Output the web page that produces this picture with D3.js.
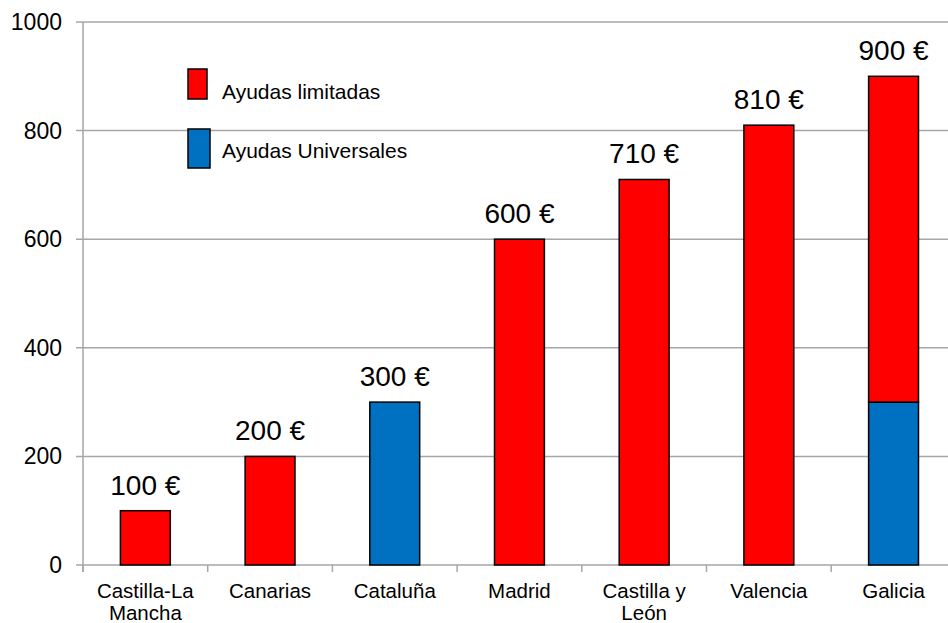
<!DOCTYPE html>
<html>
<head>
<meta charset="utf-8">
<script src="https://cdn.jsdelivr.net/npm/d3@7"></script>
<style>
  body { margin: 0; background: #fff; }
  svg { display: block; font-family: "Liberation Sans", Arial, sans-serif; }
</style>
</head>
<body>
<svg id="chart" width="948" height="623"></svg>
<script>
const regiones = ["Castilla-La Mancha", "Canarias", "Cataluña", "Madrid", "Castilla y León", "Valencia", "Galicia"];
const etiquetas = [["Castilla-La", "Mancha"], ["Canarias"], ["Cataluña"], ["Madrid"], ["Castilla y", "León"], ["Valencia"], ["Galicia"]];
const universales = [0, 0, 300, 0, 0, 0, 300];
const limitadas = [100, 200, 0, 600, 710, 810, 600];
const totales = [100, 200, 300, 600, 710, 810, 900];
const yTicks = [0, 200, 400, 600, 800, 1000];
const series = [
    {key: "universales", name: "Ayudas Universales", color: "#0070c0"},
    {key: "limitadas", name: "Ayudas limitadas", color: "#ff0000"}
];

let rows = regiones.map((r, i) => ({region: r, universales: universales[i], limitadas: limitadas[i]}));
let stacked = d3.stack().keys(series.map(s => s.key))(rows);

let svg = d3.select("#chart");
let plotLeft = 83, plotTop = 22, plotBottom = 565;
let bandW = 124.7;

let x = d3.scaleBand()
    .domain(regiones)
    .range([plotLeft, plotLeft + bandW * regiones.length])
    .paddingInner(0.6)
    .paddingOuter(0.3);
let y = d3.scaleLinear().domain([0, 1000]).range([plotBottom, plotTop]);

// grid
svg.append("g")
    .selectAll("line")
    .data(yTicks)
    .enter()
    .append("line")
    .attr("x1", plotLeft - 7)
    .attr("x2", 948)
    .attr("y1", d => y(d))
    .attr("y2", d => y(d))
    .attr("stroke", "#a6a6a6")
    .attr("stroke-width", 1.5);

// y axis line
svg.append("line")
    .attr("x1", plotLeft).attr("x2", plotLeft)
    .attr("y1", plotTop).attr("y2", plotBottom + 7)
    .attr("stroke", "#a6a6a6").attr("stroke-width", 1.5);

// x ticks
let bounds = d3.range(regiones.length + 1).map(i => plotLeft + i * bandW);
svg.append("g")
    .selectAll("line")
    .data(bounds)
    .enter()
    .append("line")
    .attr("x1", d => d).attr("x2", d => d)
    .attr("y1", plotBottom).attr("y2", plotBottom + 7)
    .attr("stroke", "#a6a6a6").attr("stroke-width", 1.5);

// y labels
svg.append("g")
    .selectAll("text")
    .data(yTicks)
    .enter()
    .append("text")
    .attr("x", plotLeft - 21)
    .attr("y", d => y(d) + 8)
    .attr("text-anchor", "end")
    .attr("font-size", 23)
    .attr("fill", "#000")
    .text(d => d);

// bars
let color = d3.scaleOrdinal().domain(series.map(s => s.key)).range(series.map(s => s.color));
svg.append("g")
    .selectAll("g")
    .data(stacked)
    .enter()
    .append("g")
    .attr("fill", d => color(d.key))
    .selectAll("rect")
    .data(d => d.filter(p => p[1] > p[0]))
    .enter()
    .append("rect")
    .attr("x", d => x(d.data.region))
    .attr("width", x.bandwidth())
    .attr("y", d => y(d[1]))
    .attr("height", d => y(d[0]) - y(d[1]))
    .attr("stroke", "#000")
    .attr("stroke-width", 1.5);

// value labels
svg.append("g")
    .selectAll("text")
    .data(totales)
    .enter()
    .append("text")
    .attr("x", (d, i) => x(regiones[i]) + x.bandwidth() / 2)
    .attr("y", d => y(d) - 16)
    .attr("text-anchor", "middle")
    .attr("font-size", 28)
    .text(d => d + " €");

// category labels
let cat = svg.append("g")
    .selectAll("text")
    .data(etiquetas)
    .enter()
    .append("text")
    .attr("x", (d, i) => x(regiones[i]) + x.bandwidth() / 2)
    .attr("y", plotBottom + 33)
    .attr("text-anchor", "middle")
    .attr("font-size", 20.5);
cat.selectAll("tspan")
    .data(d => d)
    .enter()
    .append("tspan")
    .attr("x", function() { return d3.select(this.parentNode).attr("x"); })
    .attr("dy", (d, i) => i === 0 ? 0 : 22)
    .text(d => d);

// legend
let legend = [
    {s: series[1], rx: 188, ry: 69, w: 19, h: 30, ty: 99},
    {s: series[0], rx: 188, ry: 129, w: 22, h: 39, ty: 158}
];
let lg = svg.append("g").selectAll("g").data(legend).enter().append("g");
lg.append("rect")
    .attr("x", d => d.rx).attr("y", d => d.ry)
    .attr("width", d => d.w).attr("height", d => d.h)
    .attr("fill", d => d.s.color)
    .attr("stroke", "#000").attr("stroke-width", 1.5);
lg.append("text")
    .attr("x", 222)
    .attr("y", d => d.ty)
    .attr("font-size", 21)
    .text(d => d.s.name);
</script>
</body>
</html>
